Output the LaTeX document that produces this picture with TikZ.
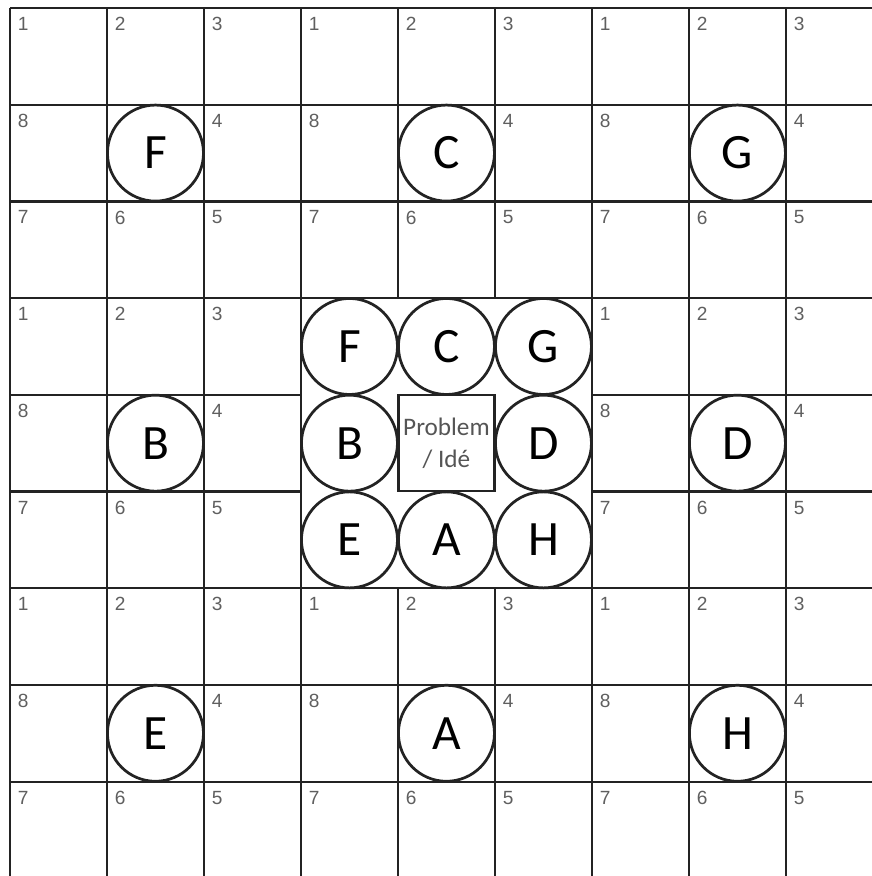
\documentclass[tikz,border=0pt]{standalone}
\usepackage{fontspec}
\setmainfont{Carlito}
\newfontfamily\numfont{Liberation Sans}
\definecolor{gridline}{RGB}{35,35,35}
\definecolor{cellnum}{RGB}{95,95,95}
\definecolor{ideatext}{RGB}{85,85,85}

\begin{document}
\begin{tikzpicture}[x=1cm,y=-0.997cm,
    petal/.style={draw=gridline,circle,minimum size=0.99cm,inner sep=0pt,line width=0.8pt,fill=white,font=\fontsize{14.5}{16}\selectfont},
    cellnum/.style={anchor=north west,inner sep=0pt,text=cellnum,font=\numfont\fontsize{5.6}{6}\selectfont},
    core/.style={draw=gridline,minimum width=0.99cm,minimum height=0.99cm,inner sep=0pt,line width=0.65pt,align=center,text=ideatext,font=\fontsize{7.4}{9.5}\selectfont}]
    \clip (-0.103,-0.083) rectangle (8.887,8.976);

    % outer grid
    \foreach \k in {0,...,9} {
        \draw[gridline,line width=0.65pt] (\k,0) -- (\k,9);
        \draw[gridline,line width=0.65pt] (0,\k) -- (9,\k);
    }
    \fill[white] (3,3) rectangle (6,6);
    \draw[gridline,line width=0.65pt] (3,3) rectangle (6,6);

    % blocks round the centre: cell numbers and the one petal
    \foreach \bx/\by/\lab in {0/0/F,1/0/C,2/0/G,0/1/B,2/1/D,0/2/E,1/2/A,2/2/H} {
        \foreach \cx/\cy/\n in {0/0/1,1/0/2,2/0/3,2/1/4,2/2/5,1/2/6,0/2/7,0/1/8}
            \node[cellnum] (n\bx\by\n) at (3*\bx+\cx+0.075,3*\by+\cy+0.09) {\n};
        \node[petal] (petal\lab) at (3*\bx+1.5,3*\by+1.5) {\lab};
        \node[petal] (inner\lab) at (3+\bx+0.5,3+\by+0.5) {\lab};
    }

    \node[core] (idea) at (4.5,4.5) {Problem\\/ Idé};
\end{tikzpicture}
\end{document}
